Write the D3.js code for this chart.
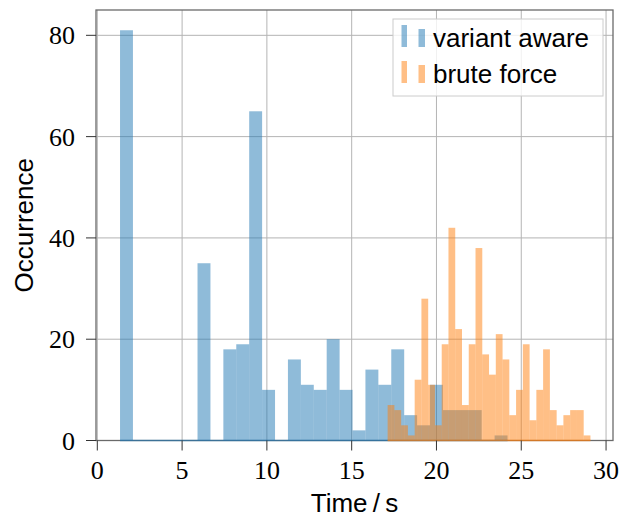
<!DOCTYPE html>
<html>
<head>
<meta charset="utf-8">
<script src="https://cdn.jsdelivr.net/npm/d3@7"></script>
<style>
	body { margin: 0; background: #fff; }
</style>
</head>
<body>
<div id="chart"></div>
<script>
// histogram counts, 30 equal bins per series
var blueCounts = [81, 0, 0, 0, 0, 0, 35, 0, 18, 19, 65, 10, 0, 16, 11, 10, 20, 10, 2, 14, 11, 18, 5, 3, 11, 6, 6, 6, 0, 1];
var orangeCounts = [7, 6, 3, 1, 12, 28, 11, 3, 19, 42, 22, 7, 19, 38, 17, 13, 21, 16, 5, 10, 19, 4, 10, 18, 6, 3, 5, 6, 6, 1];
var blueRange = [1.34, 24.19];
var orangeRange = [17.12, 29.08];
var seriesNames = ['variant aware', 'brute force'];
var xTicks = [0, 5, 10, 15, 20, 25, 30];
var yTicks = [0, 20, 40, 60, 80];

var W = 619, H = 520;
var plot = { left: 96, right: 613, top: 10, bottom: 440.5 };

var svg = d3.select('#chart').append('svg')
	.attr('width', W)
	.attr('height', H);

var x = d3.scaleLinear().domain([-0.077, 30.41]).range([plot.left, plot.right]);
var y = d3.scaleLinear().domain([0, 85]).range([plot.bottom, plot.top]);

// grid
svg.append('g').selectAll('line').data(xTicks).enter().append('line')
	.attr('x1', d => x(d)).attr('x2', d => x(d))
	.attr('y1', plot.top).attr('y2', plot.bottom)
	.attr('stroke', '#b4b4b4').attr('stroke-width', 1);
svg.append('g').selectAll('line').data(yTicks).enter().append('line')
	.attr('x1', plot.left).attr('x2', plot.right)
	.attr('y1', d => y(d)).attr('y2', d => y(d))
	.attr('stroke', '#b4b4b4').attr('stroke-width', 1);

function bins(counts, range) {
	let w = (range[1] - range[0]) / counts.length;
	return counts.map((c, i) => ({ x0: range[0] + i * w, x1: range[0] + (i + 1) * w, n: c }));
}

function drawHist(counts, range, color) {
	let g = svg.append('g');
	g.selectAll('rect').data(bins(counts, range).filter(d => d.n > 0)).enter().append('rect')
		.attr('x', d => x(d.x0))
		.attr('width', d => x(d.x1) - x(d.x0))
		.attr('y', d => y(d.n))
		.attr('height', d => y(0) - y(d.n))
		.attr('fill', color)
		.attr('fill-opacity', 0.5);
	return g;
}

// spines first so the zero-height bar outlines sit over them
svg.append('rect')
	.attr('x', plot.left).attr('y', plot.top)
	.attr('width', plot.right - plot.left).attr('height', plot.bottom - plot.top)
	.attr('fill', 'none').attr('stroke', '#6a6a6a').attr('stroke-width', 1.3);

drawHist(blueCounts, blueRange, '#1f77b4');
svg.append('line')
	.attr('x1', x(blueRange[0])).attr('x2', x(blueRange[1]))
	.attr('y1', y(0)).attr('y2', y(0))
	.attr('stroke', '#1f77b4').attr('stroke-opacity', 0.6).attr('stroke-width', 1.5);
drawHist(orangeCounts, orangeRange, '#ff7f0e');
svg.append('line')
	.attr('x1', x(orangeRange[0])).attr('x2', x(orangeRange[1]))
	.attr('y1', y(0)).attr('y2', y(0))
	.attr('stroke', '#ff7f0e').attr('stroke-opacity', 0.6).attr('stroke-width', 1.5);

// ticks
svg.append('g').selectAll('line').data(xTicks).enter().append('line')
	.attr('x1', d => x(d)).attr('x2', d => x(d))
	.attr('y1', plot.bottom).attr('y2', plot.bottom + 10)
	.attr('stroke', '#333').attr('stroke-width', 1);
svg.append('g').selectAll('line').data(yTicks).enter().append('line')
	.attr('x1', plot.left - 10).attr('x2', plot.left)
	.attr('y1', d => y(d)).attr('y2', d => y(d))
	.attr('stroke', '#333').attr('stroke-width', 1);

let serif = '"Liberation Serif", "DejaVu Serif", serif';
let sans = '"Liberation Sans", Arial, sans-serif';

svg.append('g').selectAll('text').data(xTicks).enter().append('text')
	.attr('x', d => x(d)).attr('y', 479)
	.attr('text-anchor', 'middle')
	.style('font-family', serif).style('font-size', '26px')
	.text(d => d);
svg.append('g').selectAll('text').data(yTicks).enter().append('text')
	.attr('x', 75).attr('y', d => y(d) + 9)
	.attr('text-anchor', 'end')
	.style('font-family', serif).style('font-size', '26px')
	.text(d => d);

svg.append('text')
	.attr('transform', 'translate(33,' + ((plot.top + plot.bottom) / 2) + ') rotate(-90)')
	.attr('text-anchor', 'middle')
	.style('font-family', sans).style('font-size', '26px')
	.text('Occurrence');
svg.append('text')
	.attr('x', (plot.left + plot.right) / 2).attr('y', 512)
	.attr('text-anchor', 'middle')
	.style('font-family', sans).style('font-size', '26px')
	.text('Time\u2009/\u2009s');

// legend
let legend = svg.append('g');
legend.append('rect')
	.attr('x', 393).attr('y', 19).attr('width', 210).attr('height', 77)
	.attr('fill', '#fff').attr('fill-opacity', 0.8)
	.attr('stroke', '#cccccc').attr('stroke-width', 1);
let colors = ['#1f77b4', '#ff7f0e'];
seriesNames.forEach((name, i) => {
	let base = 47 + i * 36;
	legend.append('rect')
		.attr('x', 401.5).attr('y', base - 22).attr('width', 5.5).attr('height', 22)
		.attr('fill', colors[i]).attr('fill-opacity', 0.5);
	legend.append('rect')
		.attr('x', 418.5).attr('y', base - 18).attr('width', 6.5).attr('height', 18)
		.attr('fill', colors[i]).attr('fill-opacity', 0.5);
	legend.append('text')
		.attr('x', 433).attr('y', base)
		.style('font-family', sans).style('font-size', '26px')
		.text(name);
});
</script>
</body>
</html>
